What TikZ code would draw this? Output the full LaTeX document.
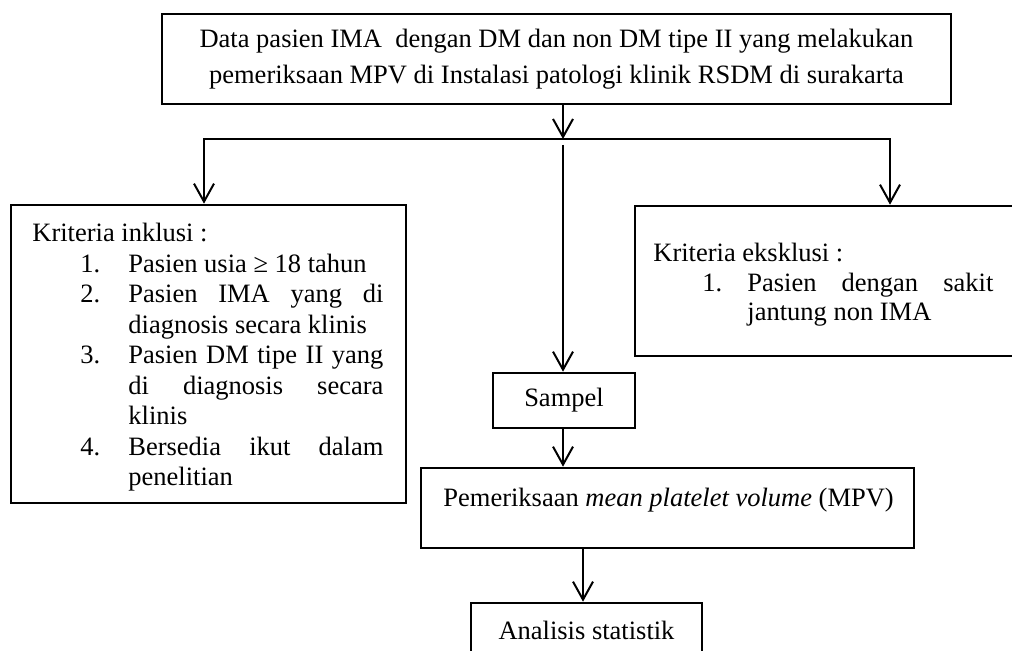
\documentclass[tikz,border=0pt]{standalone}
\usepackage{fontspec}
\setmainfont{Liberation Serif}
\usetikzlibrary{arrows.meta}
\newenvironment{critlist}[2]{\begin{list}{}{\setlength{\leftmargin}{#1}\setlength{\labelwidth}{#2}\setlength{\labelsep}{0pt}\setlength{\itemsep}{0pt}\setlength{\parsep}{0pt}\setlength{\topsep}{0pt}\setlength{\partopsep}{0pt}\setlength{\itemindent}{0pt}\setlength{\listparindent}{0pt}\renewcommand{\makelabel}[1]{##1\hfil}}}{\end{list}}
\begin{document}
\begin{tikzpicture}[x=0.5pt,y=-0.5pt,
  box/.style={draw, line width=1.3pt, inner sep=0pt},
  conn/.style={line width=1pt},
  arr/.style={conn, -{Straight Barb[length=9pt,width=10pt]}},
  txt/.style={inner sep=0pt, align=justify, font=\fontsize{13.25pt}{15.25pt}\selectfont\setlength{\parskip}{0pt}}]
\clip (0,0) rectangle (1012,651);
% boxes
\node[box, minimum width=394.5pt, minimum height=45pt, align=center,
      font=\fontsize{13.25pt}{18pt}\selectfont] (top) at (556.5,59)
  {Data pasien IMA\ \ dengan DM dan non DM tipe II yang melakukan\\pemeriksaan MPV di Instalasi patologi klinik RSDM di surakarta};
\node[box, minimum width=197.5pt, minimum height=149pt] (inkl) at (208.5,354) {};
\node[box, minimum width=197.5pt, minimum height=75pt] (ekskl) at (832.5,281) {};
\node[box, minimum width=71pt, minimum height=27.5pt, font=\fontsize{13.25pt}{15.25pt}\selectfont] (sampel) at (564,400.5) {Sampel};
\node[box, minimum width=246.5pt, minimum height=40pt] (mpv) at (667.5,508) {};
\node[box, minimum width=115.5pt, minimum height=27.5pt, font=\fontsize{13.25pt}{15.25pt}\selectfont] (analisis) at (586.5,630.5) {Analisis statistik};
% box texts
\node[txt, text width=175.5pt, anchor=north west] (inkltxt) at (32,223)
  {Kriteria inklusi :\par
   \begin{critlist}{48pt}{24pt}
   \item[1.] Pasien usia ≥ 18 tahun
   \item[2.] Pasien IMA yang di\linebreak diagnosis secara klinis
   \item[3.] Pasien DM tipe II yang\linebreak di diagnosis secara\linebreak klinis
   \item[4.] Bersedia ikut dalam\linebreak penelitian
   \end{critlist}};
\node[txt, text width=170pt, anchor=north west, font=\fontsize{13.25pt}{14.75pt}\selectfont\setlength{\parskip}{0pt}] (eksktxt) at (653,243)
  {Kriteria eksklusi :\par
   \begin{critlist}{47pt}{22.5pt}
   \item[1.] Pasien dengan sakit\linebreak jantung non IMA
   \end{critlist}};
\node[txt, anchor=base west] (mpvtxt) at (443,507)
  {Pemeriksaan \textit{mean platelet volume} (MPV)};
% connectors
\coordinate (split) at (563,139);
\coordinate (lsplit) at (204,139);
\coordinate (rsplit) at (890,139);
\coordinate (cstart) at (563,145);
\coordinate (aarr) at (583,600);
\draw[arr] (split) -- (lsplit) -- (lsplit |- inkl.north);
\draw[arr] (split) -- (rsplit) -- (rsplit |- ekskl.north);
\draw[arr] (top.south -| split) -- (split);
\draw[arr] (cstart) -- (cstart |- sampel.north);
\draw[arr] (sampel.south -| cstart) -- (cstart |- mpv.north);
\draw[arr] (aarr |- mpv.south) -- (aarr |- analisis.north);
\end{tikzpicture}
\end{document}
